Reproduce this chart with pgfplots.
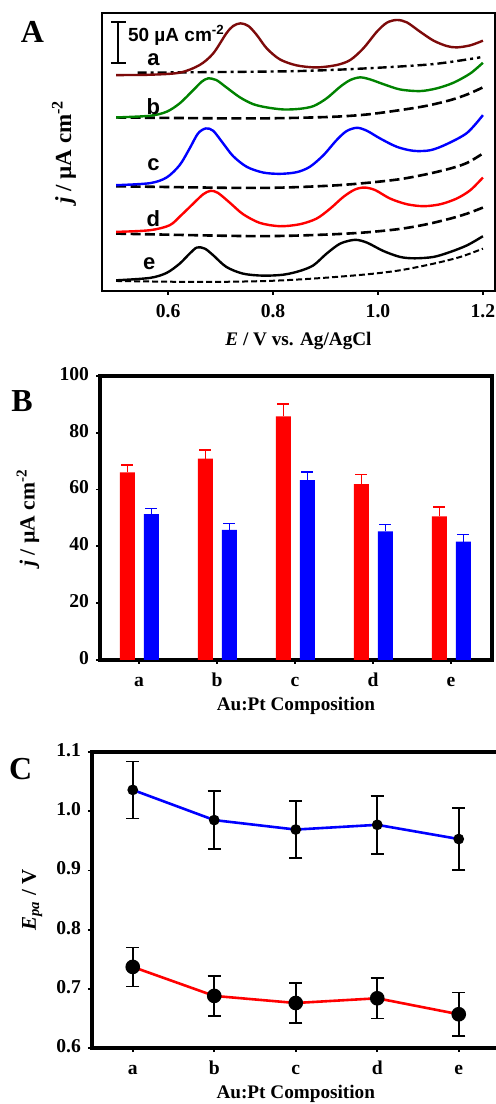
\documentclass[border=0pt]{standalone}
\usepackage{fontspec}
\setmainfont{Liberation Serif}
\newfontfamily\arialf{Liberation Sans}
\usepackage{pgfplots}
\pgfplotsset{compat=1.18}
\definecolor{darkred}{RGB}{125,10,10}
\definecolor{mygreen}{RGB}{0,130,0}
\pgfplotsset{
  myaxis/.style={
    scale only axis, anchor=south west,
    tick align=outside, xtick pos=bottom, ytick pos=left,
    major tick length=2pt,
    tick style={line width=0.9pt,black},
    /pgf/number format/assume math mode=true,
    ticklabel style={font=\bfseries\fontsize{9.8}{11}\selectfont},
    typeset ticklabels with strut,
    label style={font=\bfseries\fontsize{9.6}{11}\selectfont},
  }
}
\begin{document}
\begin{tikzpicture}
\useasboundingbox (0,0) rectangle (248pt,552pt);
% ---------------- Panel A
\begin{axis}[myaxis,
  at={(51pt,406.5pt)}, width=196.5pt, height=139pt,
  xmin=0.474, xmax=1.223, ymin=0, ymax=338.6,
  axis line style={line width=1.2pt},
  ytick=\empty,
  xtick={0.6,0.8,1.0,1.2},
  xticklabels={0.6,0.8,1.0,1.2},
  xlabel={\textit{E} / V vs. Ag/AgCl},
  xlabel style={at={(axis description cs:0.5,-0.18)}, anchor=center},
  ylabel={\textit{j} / µA cm\textsuperscript{-2}},
  ylabel style={at={(axis description cs:-0.0967,0.5)}, anchor=center, font=\bfseries\fontsize{11.5}{13}\selectfont},
]
\addplot[black, line width=1.2pt, dash pattern=on 4.5pt off 2pt on 1.5pt off 2pt, smooth] coordinates {(0.542,265.9) (0.70,266.7) (0.851,267.9) (0.979,271.2) (1.106,276.4) (1.195,284.6)};
\addplot[black, line width=1.3pt, dash pattern=on 5pt off 2.2pt, smooth] coordinates {(0.501,211.4) (0.724,210.2) (0.820,210.6) (0.915,212.2) (0.979,215.0) (1.042,220.3) (1.093,225.6) (1.138,232.5) (1.170,239.4) (1.200,248.0)};
\addplot[black, line width=1.3pt, dash pattern=on 5pt off 2.2pt, smooth] coordinates {(0.501,127.6) (0.724,125.6) (0.820,126.0) (0.915,128.5) (0.979,131.7) (1.042,136.2) (1.093,142.3) (1.138,149.2) (1.170,156.1) (1.200,167.5)};
\addplot[black, line width=1.3pt, dash pattern=on 5pt off 2.2pt, smooth] coordinates {(0.501,69.9) (0.724,67.1) (0.820,67.1) (0.915,69.1) (0.979,71.5) (1.042,75.6) (1.093,81.3) (1.138,88.2) (1.170,94.3) (1.200,101.6)};
\addplot[black, line width=1.0pt, dash pattern=on 3pt off 1.5pt, smooth] coordinates {(0.501,12.2) (0.660,11.0) (0.788,12.2) (0.883,15.4) (0.979,20.3) (1.042,25.2) (1.106,33.3) (1.157,41.5) (1.200,51.6)};
\addplot[darkred, line width=1.2pt, smooth] coordinates {(0.501,263.0) (0.565,263.4) (0.622,265.9) (0.660,275.2) (0.686,289.4) (0.711,313.8) (0.724,322.8) (0.738,326.0) (0.753,322.8) (0.769,311.8) (0.788,295.5) (0.813,282.1) (0.845,274.8) (0.883,272.3) (0.921,275.2) (0.947,281.3) (0.972,295.5) (0.998,315.9) (1.017,326.8) (1.036,330.1) (1.055,327.2) (1.080,315.9) (1.106,304.9) (1.131,298.4) (1.150,296.7) (1.176,299.2) (1.200,304.9)};
\addplot[mygreen, line width=1.2pt, smooth] coordinates {(0.501,211.4) (0.565,213.4) (0.597,218.3) (0.622,228.5) (0.648,244.7) (0.664,254.9) (0.676,258.9) (0.692,256.9) (0.711,248.0) (0.737,235.8) (0.762,227.6) (0.788,223.6) (0.820,221.1) (0.851,221.9) (0.877,225.2) (0.902,234.6) (0.928,248.8) (0.947,256.9) (0.966,260.2) (0.985,257.7) (1.010,252.0) (1.042,245.5) (1.080,243.5) (1.112,246.8) (1.144,253.7) (1.176,265.0) (1.200,278.0)};
\addplot[blue, line width=1.2pt, smooth] coordinates {(0.501,128.9) (0.565,131.3) (0.597,138.2) (0.622,153.3) (0.641,173.6) (0.657,191.9) (0.672,198.0) (0.686,195.1) (0.705,179.7) (0.724,164.2) (0.750,151.2) (0.781,144.3) (0.813,142.7) (0.845,144.7) (0.870,151.2) (0.896,165.4) (0.921,183.7) (0.940,194.7) (0.960,198.8) (0.979,195.1) (1.004,185.8) (1.036,175.6) (1.068,170.7) (1.100,171.5) (1.131,178.9) (1.170,192.7) (1.200,214.2)};
\addplot[red, line width=1.2pt, smooth] coordinates {(0.501,72.0) (0.565,74.0) (0.603,80.1) (0.625,92.3) (0.648,106.5) (0.667,117.9) (0.681,122.0) (0.695,119.5) (0.718,107.3) (0.743,93.5) (0.775,82.9) (0.813,78.9) (0.851,81.3) (0.883,88.2) (0.909,100.4) (0.934,114.6) (0.956,123.6) (0.975,126.0) (0.995,122.8) (1.023,112.6) (1.055,105.7) (1.087,103.3) (1.119,105.7) (1.150,112.6) (1.176,122.8) (1.200,138.2)};
\addplot[black, line width=1.2pt, smooth] coordinates {(0.501,13.0) (0.565,15.9) (0.597,22.0) (0.622,33.3) (0.641,45.5) (0.655,53.0) (0.670,51.6) (0.686,43.5) (0.711,29.3) (0.743,21.1) (0.781,18.7) (0.820,19.9) (0.851,24.4) (0.877,31.3) (0.902,45.5) (0.928,57.7) (0.956,62.3) (0.979,58.9) (1.010,48.8) (1.042,41.5) (1.070,39.8) (1.106,41.5) (1.138,47.6) (1.170,55.7) (1.200,66.7)};
% scale bar
\draw[line width=1pt] (axis cs:0.505,277.5) -- (axis cs:0.505,327.2);
\draw[line width=1pt] ([xshift=-3.7pt]axis cs:0.505,277.5) -- ([xshift=3.7pt]axis cs:0.505,277.5);
\draw[line width=1pt] ([xshift=-3.7pt]axis cs:0.505,327.2) -- ([xshift=3.7pt]axis cs:0.505,327.2);
\node[anchor=base west, font=\arialf\bfseries\fontsize{9.5}{11}\selectfont, inner sep=0pt] at (axis cs:0.523,303.7) {50 µA cm\textsuperscript{-2}};
\node[font=\arialf\bfseries\fontsize{11}{12}\selectfont, inner sep=0pt] at (axis cs:0.572,281.3) {a};
\node[font=\arialf\bfseries\fontsize{11}{12}\selectfont, inner sep=0pt] at (axis cs:0.572,224.4) {b};
\node[font=\arialf\bfseries\fontsize{11}{12}\selectfont, inner sep=0pt] at (axis cs:0.572,153.3) {c};
\node[font=\arialf\bfseries\fontsize{11}{12}\selectfont, inner sep=0pt] at (axis cs:0.572,88.2) {d};
\node[font=\arialf\bfseries\fontsize{11}{12}\selectfont, inner sep=0pt] at (axis cs:0.564,33.3) {e};
\end{axis}
\node[font=\bfseries\fontsize{16}{18}\selectfont] at (16.25pt,536.2pt) {A};
% ---------------- Panel B
\begin{axis}[myaxis,
  at={(50pt,222pt)}, width=196pt, height=142pt,
  xmin=-0.5, xmax=4.526, ymin=0, ymax=100,
  axis line style={line width=1.7pt},
  ybar, bar width=7.5pt,
  xtick={0,1,2,3,4}, xticklabels={a,b,c,d,e},
  ytick={0,20,40,60,80,100},
  xlabel={Au:Pt Composition},
  xlabel style={at={(axis description cs:0.5,-0.162)}, anchor=center},
  ylabel={\textit{j} / µA cm\textsuperscript{-2}},
  ylabel style={at={(axis description cs:-0.184,0.5)}, anchor=center, font=\bfseries\fontsize{10.8}{12}\selectfont},
]
\addplot[fill=red, draw=none, bar shift=-5.75pt,
  error bars/.cd, y dir=plus, y explicit,
  error bar style={red, line width=0.8pt},
  error mark options={rotate=90, red, mark size=3pt, line width=0.8pt}]
  table[x=x, y=y, y error=e] {
x y e
0 66.1 2.6
1 70.9 3.0
2 85.8 4.3
3 61.9 3.4
4 50.6 3.3
};
\addplot[fill=blue, draw=none, bar shift=6.25pt,
  error bars/.cd, y dir=plus, y explicit,
  error bar style={blue, line width=0.8pt},
  error mark options={rotate=90, blue, mark size=3pt, line width=0.8pt}]
  table[x=x, y=y, y error=e] {
x y e
0 51.4 1.9
1 45.8 2.3
2 63.3 3.0
3 45.3 2.4
4 41.7 2.5
};
\end{axis}
\node[font=\bfseries\fontsize{16}{18}\selectfont] at (11pt,351.6pt) {B};
% ---------------- Panel C
\begin{axis}[myaxis,
  at={(46pt,28pt)}, width=203.75pt, height=148pt,
  xmin=-0.5, xmax=4.5, ymin=0.6, ymax=1.1,
  axis line style={line width=2.1pt},
  xtick={0,1,2,3,4}, xticklabels={a,b,c,d,e},
  ytick={0.6,0.7,0.8,0.9,1.0,1.1},
  yticklabel style={/pgf/number format/.cd, fixed, fixed zerofill, precision=1},
  xlabel={Au:Pt Composition},
  xlabel style={at={(axis description cs:0.5,-0.155)}, anchor=center},
  ylabel={\textit{E}\textsubscript{\textit{pa}} / V},
  ylabel style={at={(axis description cs:-0.147,0.5)}, anchor=center, font=\bfseries\fontsize{10.5}{12}\selectfont},
]
\addplot[blue, line width=1.3pt, mark=*, mark size=2pt, mark options={black, fill=black, solid},
  error bars/.cd, y dir=both, y explicit,
  error bar style={black, line width=0.8pt},
  error mark options={rotate=90, black, mark size=3.3pt, line width=0.8pt}]
  table[x=x, y=y, y error=e] {
x y e
0 1.036 0.048
1 0.985 0.049
2 0.969 0.048
3 0.977 0.049
4 0.953 0.052
};
\addplot[red, line width=1.3pt, mark=*, mark size=3pt, mark options={black, fill=black, solid},
  error bars/.cd, y dir=both, y explicit,
  error bar style={black, line width=0.8pt},
  error mark options={rotate=90, black, mark size=3.3pt, line width=0.8pt}]
  table[x=x, y=y, y error=e] {
x y e
0 0.737 0.033
1 0.688 0.034
2 0.676 0.034
3 0.684 0.034
4 0.657 0.037
};
\end{axis}
\node[font=\bfseries\fontsize{16}{18}\selectfont] at (10.3pt,167.3pt) {C};
\end{tikzpicture}
\end{document}
